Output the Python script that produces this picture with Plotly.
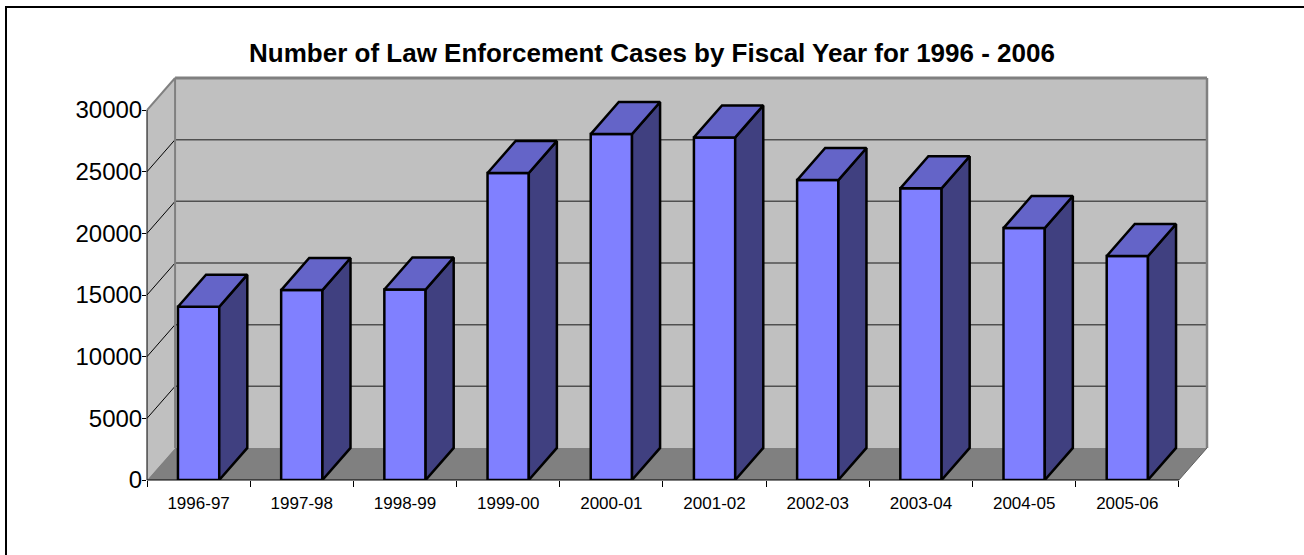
import plotly.graph_objects as go

# ---------------- data ----------------
categories = ["1996-97", "1997-98", "1998-99", "1999-00", "2000-01",
              "2001-02", "2002-03", "2003-04", "2004-05", "2005-06"]
cases = [14050, 15400, 15450, 24900, 28050, 27780, 24320, 23650, 20430, 18160]
y_ticks = [0, 5000, 10000, 15000, 20000, 25000, 30000]
y_tick_labels = ["0", "5000", "10000", "15000", "20000", "25000", "30000"]
title_text = "Number of Law Enforcement Cases by Fiscal Year for 1996 - 2006"

# ---------------- 3-D look parameters ----------------
DX = 0.272      # depth offset (category units)
DY = 2600       # depth offset (value units)
BW = 0.40       # bar front width
YMAX = 30000
n = len(categories)
xs = list(range(n))
L, R = -0.5, n - 0.5

XR = [L, R + DX]
YR = [0, YMAX + DY]

ML, MR, MT, MB = 147, 97, 78, 75
W, H = 1304, 555

def px(u):
    return (u - XR[0]) / (XR[1] - XR[0])

def py(v):
    return (v - YR[0]) / (YR[1] - YR[0])

WALL = "#C0C0C0"
FLOOR = "#808080"
FRONT = "#8080FF"
TOP = "#6464C8"
SIDE = "#404080"

fig = go.Figure()

# front faces
fig.add_trace(go.Bar(
    x=xs, y=cases, width=BW,
    marker=dict(color=FRONT, line=dict(color="black", width=2.5)),
    hoverinfo="skip", showlegend=False,
))

side_x, side_y, top_x, top_y = [], [], [], []
for i, v in zip(xs, cases):
    x0, x1 = i - BW / 2, i + BW / 2
    side_x += [x1, x1 + DX, x1 + DX, x1, x1, None]
    side_y += [0, DY, v + DY, v, 0, None]
    top_x += [x0, x1, x1 + DX, x0 + DX, x0, None]
    top_y += [v, v, v + DY, v + DY, v, None]

fig.add_trace(go.Scatter(x=side_x, y=side_y, mode="lines", fill="toself",
                         fillcolor=SIDE, line=dict(color="black", width=2.5),
                         hoverinfo="skip", showlegend=False))
fig.add_trace(go.Scatter(x=top_x, y=top_y, mode="lines", fill="toself",
                         fillcolor=TOP, line=dict(color="black", width=2.5),
                         hoverinfo="skip", showlegend=False))

shapes = []

def poly(pts, fill, line_color=None, lw=0):
    d = "M " + " L ".join(f"{px(u)},{py(v)}" for u, v in pts) + " Z"
    shapes.append(dict(type="path", path=d, xref="paper", yref="paper",
                       fillcolor=fill, line=dict(color=line_color or fill, width=lw),
                       layer="below"))

def seg(p0, p1, color, lw):
    shapes.append(dict(type="line", xref="paper", yref="paper",
                       x0=px(p0[0]), y0=py(p0[1]), x1=px(p1[0]), y1=py(p1[1]),
                       line=dict(color=color, width=lw), layer="below"))

# walls and floor
poly([(L, 0), (L, YMAX), (L + DX, YMAX + DY), (L + DX, DY)], WALL)
poly([(L + DX, DY), (L + DX, YMAX + DY), (R + DX, YMAX + DY), (R + DX, DY)], WALL)
poly([(L, 0), (R, 0), (R + DX, DY), (L + DX, DY)], FLOOR)

# gridlines
for t in y_ticks[1:-1]:
    seg((L, t), (L + DX, t + DY), "black", 1)
    seg((L + DX, t + DY), (R + DX, t + DY), "#505050", 1.5)

# wall edges
seg((L + DX, DY), (L + DX, YMAX + DY), "#808080", 2)
seg((L, YMAX), (L + DX, YMAX + DY), "#808080", 2)
seg((L + DX, YMAX + DY), (R + DX, YMAX + DY), "#808080", 3)
seg((R + DX, DY), (R + DX, YMAX + DY), "#808080", 2.5)
seg((R, 0), (R + DX, DY), "#606060", 1)

# front axes
seg((L, 0), (L, YMAX), "black", 1)
seg((L, 0), (R, 0), "black", 1)

# outer chart border
shapes.append(dict(type="rect", xref="paper", yref="paper",
                   x0=(6 - ML) / (W - ML - MR), x1=1.3,
                   y0=-0.4, y1=(H - MB - 7) / (H - MT - MB),
                   line=dict(color="black", width=2), fillcolor="rgba(0,0,0,0)",
                   layer="above"))

fig.update_layout(
    width=W, height=H,
    margin=dict(l=ML, r=MR, t=MT, b=MB),
    paper_bgcolor="white", plot_bgcolor="rgba(0,0,0,0)",
    shapes=shapes,
    showlegend=False,
    title=dict(text=f"<b>{title_text}</b>", x=0.5, xanchor="center",
               y=1 - 53 / H, yanchor="middle", yref="container",
               font=dict(family="Liberation Sans, Arial, sans-serif", size=26, color="black")),
    xaxis=dict(range=XR, tickmode="array", tickvals=xs, ticktext=categories,
               showgrid=False, zeroline=False, showline=False, ticks="",
               ticklabelstandoff=11,
               minor=dict(tick0=L, dtick=1, ticks="outside", ticklen=6,
                          tickcolor="black", tickwidth=1, showgrid=False),
               tickfont=dict(family="Liberation Sans, Arial, sans-serif",
                             size=17, color="black")),
    yaxis=dict(range=YR, tickmode="array", tickvals=y_ticks, ticktext=y_tick_labels,
               showgrid=False, zeroline=False, showline=False,
               ticks="outside", ticklen=4, tickcolor="black", tickwidth=1,
               ticklabelstandoff=-5,
               tickfont=dict(family="Liberation Sans, Arial, sans-serif",
                             size=24, color="black")),
)

fig.write_html("out.html")
